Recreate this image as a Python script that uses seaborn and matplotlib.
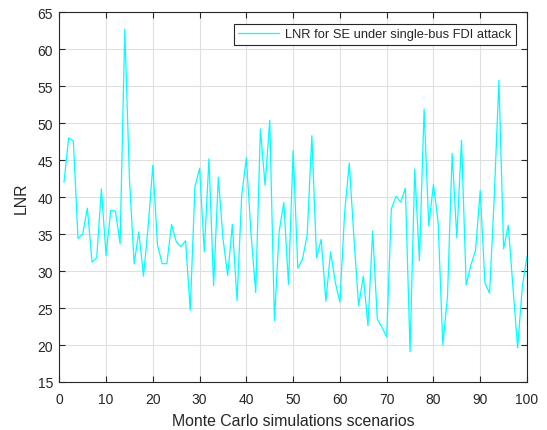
import numpy as np
import pandas as pd
import matplotlib
matplotlib.use("Agg")
import matplotlib.pyplot as plt
import seaborn as sns

# Monte Carlo scenario index and the largest normalized residual per run
scenarios = list(range(1, 101))
lnr = [
    42.0, 48.0, 47.6, 34.4, 35.0, 38.5, 31.2, 31.8, 41.1, 32.1,
    38.2, 38.1, 33.7, 62.7, 42.5, 31.0, 35.3, 29.3, 36.0, 44.3,
    33.5, 31.0, 31.0, 36.3, 34.0, 33.3, 34.1, 24.7, 41.4, 43.9,
    32.6, 45.2, 28.0, 42.7, 34.4, 29.4, 36.3, 26.0, 40.2, 45.3,
    35.0, 27.1, 49.2, 41.6, 50.4, 23.3, 35.3, 39.3, 28.2, 46.3,
    30.4, 31.6, 34.9, 48.3, 31.8, 34.3, 25.9, 32.6, 28.5, 25.8,
    37.8, 44.6, 34.5, 25.3, 29.3, 22.6, 35.4, 23.5, 22.4, 21.1,
    38.4, 40.1, 39.3, 41.2, 19.1, 43.8, 31.4, 51.9, 36.1, 41.7,
    36.6, 20.0, 26.5, 45.9, 34.5, 47.7, 28.1, 30.8, 32.8, 40.9,
    28.4, 27.0, 40.0, 55.8, 33.0, 36.2, 27.8, 19.6, 27.9, 32.0,
]
series_label = "LNR for SE under single-bus FDI attack"
x_ticks = [0, 10, 20, 30, 40, 50, 60, 70, 80, 90, 100]
y_ticks = [15, 20, 25, 30, 35, 40, 45, 50, 55, 60, 65]

df = pd.DataFrame({"scenario": scenarios, "LNR": lnr})

sns.set_theme(style="white")
plt.rcParams["font.family"] = ["Liberation Sans", "DejaVu Sans"]

axis_color = "#262626"
fig = plt.figure(figsize=(5.47, 4.31), dpi=100)
ax = fig.add_axes([0.1084, 0.1114, 0.8550, 0.8580])

sns.lineplot(data=df, x="scenario", y="LNR", ax=ax, color=(0, 1, 1),
             linewidth=0.9, label=series_label)

ax.set_xlim(0, 100)
ax.set_ylim(15, 65)
ax.set_xticks(x_ticks)
ax.set_yticks(y_ticks)
ax.grid(True, color="#dfdfdf", linewidth=0.8)
ax.set_axisbelow(True)

for side in ax.spines.values():
    side.set_color(axis_color)
    side.set_linewidth(0.8)
ax.tick_params(axis="both", which="both", direction="in", length=4,
               width=0.8, color=axis_color, labelcolor=axis_color,
               labelsize=10, top=True, right=True, bottom=True, left=True)
ax.tick_params(axis="x", pad=7)
ax.tick_params(axis="y", pad=4.5)

ax.set_xlabel("Monte Carlo simulations scenarios", fontsize=11.4,
              color=axis_color, labelpad=5)
ax.set_ylabel("LNR", fontsize=11.4, color=axis_color, labelpad=6)

leg = ax.legend(loc="upper right", bbox_to_anchor=(0.9765, 0.9684),
                borderaxespad=0, fontsize=9.3, frameon=True, fancybox=False,
                handlelength=3.2, handletextpad=0.45, borderpad=0.35)
leg.get_frame().set_edgecolor(axis_color)
leg.get_frame().set_linewidth(0.8)
leg.get_frame().set_alpha(1)
for t in leg.get_texts():
    t.set_color(axis_color)

fig.savefig("out.png", dpi=100)
